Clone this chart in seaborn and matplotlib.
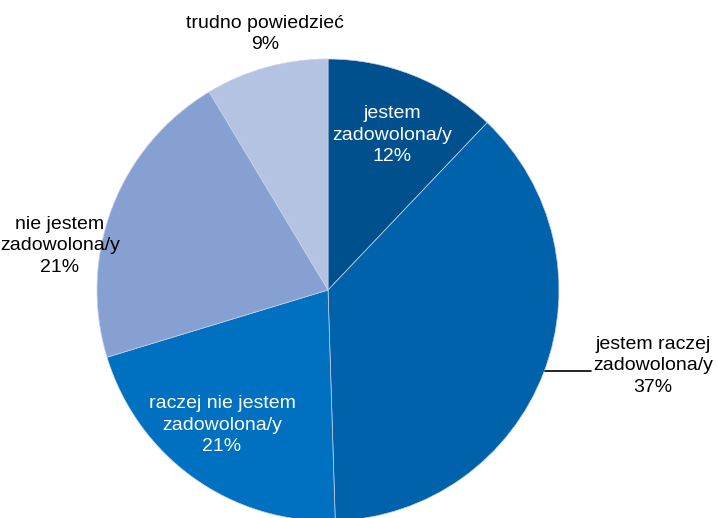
import matplotlib
matplotlib.use("Agg")
import matplotlib.pyplot as plt
import seaborn as sns

sns.set_theme(style="white")
plt.rcParams["font.family"] = ["Liberation Sans Narrow", "Liberation Sans", "DejaVu Sans"]

# data, clockwise from 12 o'clock (labels shown rounded)
labels = [
    "jestem\nzadowolona/y",
    "jestem raczej\nzadowolona/y",
    "raczej nie jestem\nzadowolona/y",
    "nie jestem\nzadowolona/y",
    "trudno powiedzieć",
]
shares = [12.1, 37.4, 20.8, 21.1, 8.6]
colors = ["#00508E", "#0062AA", "#0070C0", "#86A1D1", "#B4C3E2"]

# label placement (pixel coords, y from top) and colour
label_pos = [(392, 135), (653, 366), (222, 425), (60, 246), (265, 34)]
label_col = ["white", "black", "white", "black", "black"]

W, H = 718, 518
fig = plt.figure(figsize=(W / 100, H / 100), dpi=100)
ax = fig.add_axes([0, 0, 1, 1])

cx, cy, r = 328, H - 290, 231
ax.pie(shares, colors=colors, startangle=90, counterclock=False,
       center=(cx, cy), radius=r, frame=True,
       wedgeprops=dict(edgecolor="#c8d2e6", linewidth=0.5))
ax.set_xlim(0, W)
ax.set_ylim(0, H)
ax.set_aspect("equal")
ax.axis("off")

for lab, val, (x, y), c in zip(labels, shares, label_pos, label_col):
    ax.text(x, H - y, f"{lab}\n{val:.0f}%", ha="center", va="center",
            fontsize=14, color=c, linespacing=1.32)

# leader line for the big slice
ax.plot([545, 591], [H - 371, H - 371], color="black", lw=1.2)

fig.savefig("out.png", dpi=100)
